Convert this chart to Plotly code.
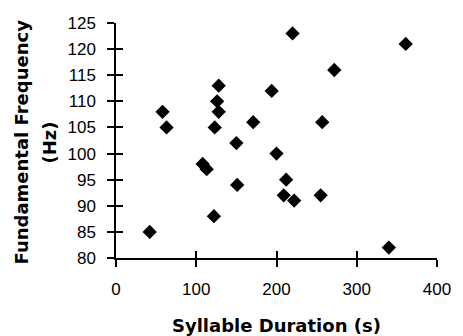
import plotly.graph_objects as go

duration = [42, 58, 63, 108, 113, 122, 123, 126, 128, 128, 150, 151, 171, 194,
            200, 209, 212, 220, 222, 255, 257, 272, 340, 361]
frequency = [85, 108, 105, 98, 97, 88, 105, 110, 108, 113, 102, 94, 106, 112,
             100, 92, 95, 123, 91, 92, 106, 116, 82, 121]

x_ticks = [0, 100, 200, 300, 400]
y_ticks = [80, 85, 90, 95, 100, 105, 110, 115, 120, 125]

x_title = "Syllable Duration (s)"
y_title_1 = "Fundamental Frequency"
y_title_2 = "(Hz)"

fig = go.Figure()
fig.add_trace(go.Scatter(
    x=duration, y=frequency, mode="markers",
    marker=dict(symbol="diamond", size=11, color="black", line=dict(width=0)),
    showlegend=False, hoverinfo="skip"))
# invisible copy to activate overlay axes (for inner half of crossing ticks)
fig.add_trace(go.Scatter(
    x=duration, y=frequency, mode="markers", xaxis="x2", yaxis="y2",
    marker=dict(opacity=0), showlegend=False, hoverinfo="skip"))

tickfont = dict(family="Liberation Sans", size=17, color="black")
common = dict(showgrid=False, zeroline=False, showline=True, linecolor="black",
              linewidth=1.5, tickcolor="black", tickwidth=1.5, ticklen=7)

fig.update_layout(
    width=463, height=336,
    margin=dict(l=116, r=15, t=23, b=78),
    paper_bgcolor="white", plot_bgcolor="white",
    xaxis=dict(range=[0, 400], tickvals=x_ticks, ticks="outside",
               tickfont=tickfont, ticklabelstandoff=8, **common),
    yaxis=dict(range=[80, 125], tickvals=y_ticks, ticks="outside",
               tickfont=tickfont, ticklabelstandoff=8, **common),
    xaxis2=dict(range=[0, 400], tickvals=x_ticks, ticks="inside",
                showticklabels=False, overlaying="x", anchor="y2", **common),
    yaxis2=dict(range=[80, 125], tickvals=y_ticks, ticks="inside",
                showticklabels=False, overlaying="y", anchor="x2", **common),
    font=dict(family="DejaVu Sans", color="black"),
)

title_font = dict(family="DejaVu Sans", size=18, color="black", weight="bold")
fig.add_annotation(text=y_title_1, xref="paper", yref="paper", x=0, y=0.5,
                   xanchor="center", yanchor="middle", xshift=-95, yshift=-2,
                   textangle=-90, showarrow=False, font=title_font)
fig.add_annotation(text=y_title_2, xref="paper", yref="paper", x=0, y=0.5,
                   xanchor="center", yanchor="middle", xshift=-67, yshift=-2,
                   textangle=-90, showarrow=False, font=title_font)
fig.add_annotation(text=x_title, xref="paper", yref="paper", x=0.5, y=0,
                   xanchor="center", yanchor="middle", yshift=-67,
                   showarrow=False, font=title_font)

fig.write_html("out.html")
